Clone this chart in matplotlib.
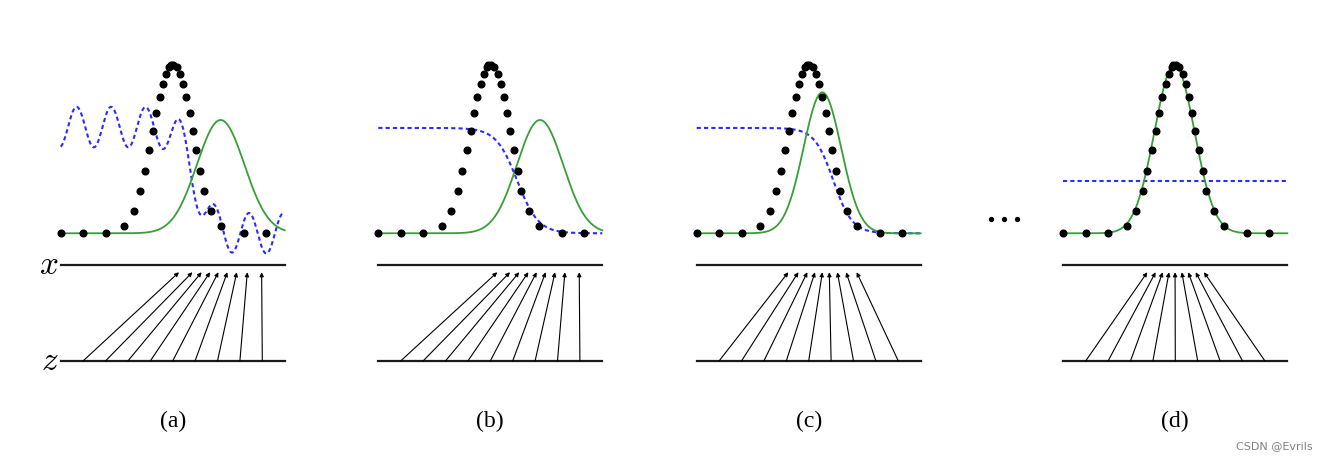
import numpy as np
import matplotlib.pyplot as plt

plt.rcParams['mathtext.fontset'] = 'cm'

# p_data sample points (position along x, height), same for every panel
data_u = [0.0, 0.101, 0.201, 0.283, 0.325, 0.354, 0.375, 0.395, 0.412, 0.427,
          0.442, 0.457, 0.472, 0.484, 0.491, 0.502, 0.518, 0.533, 0.546, 0.561,
          0.575, 0.59, 0.605, 0.624, 0.639, 0.673, 0.717, 0.819, 0.918]
data_v = [0.0, 0.0, 0.0, 0.045, 0.134, 0.249, 0.371, 0.494, 0.609, 0.713,
          0.807, 0.886, 0.945, 0.985, 1.0, 1.0, 0.985, 0.945, 0.886, 0.807,
          0.713, 0.609, 0.494, 0.371, 0.249, 0.134, 0.045, 0.0, 0.0]

panel_labels = ['(a)', '(b)', '(c)', '(d)']

# generator density p_g: mean, width, peak height
pg_mean = [0.714, 0.722, 0.561, 0.4965]
pg_sigma = [0.106, 0.103, 0.084, 0.089]
pg_height = [0.672, 0.672, 0.836, 1.0]

# discriminator D: plateau level, drop centre, drop width, ripple amplitude/period/phase
d_level = [0.63, 0.625, 0.625, 0.312]
d_mid = [0.6, 0.62, 0.61, None]
d_width = [0.035, 0.047, 0.042, None]
d_ripple = [0.12, 0.0, 0.0, 0.0]
d_period = [0.154, 0.154, 0.154, 0.154]
d_phase = [0.071, 0.071, 0.071, 0.071]

# mapping z -> x: start on z line, end on x line
z_pts = [0.1, 0.2, 0.3, 0.4, 0.5, 0.6, 0.7, 0.8, 0.9]
x_pts = [
    [0.528, 0.588, 0.629, 0.667, 0.704, 0.744, 0.786, 0.833, 0.897],
    [0.531, 0.588, 0.629, 0.670, 0.707, 0.747, 0.789, 0.833, 0.897],
    [0.409, 0.454, 0.494, 0.528, 0.561, 0.592, 0.628, 0.667, 0.714],
    [0.375, 0.412, 0.444, 0.472, 0.499, 0.529, 0.558, 0.591, 0.628],
]

# the "..." between (c) and (d)
ellipsis_u = [1.313, 1.373, 1.432]
ellipsis_v = [0.085, 0.085, 0.085]

W, H = 1328, 460
panel_left = [60.7, 378.3, 696.7, 1063.3]
panel_w = 224

X_LINE = -0.188
Z_LINE = -0.757
TIP = -0.231

green = '#36a036'
blue = '#2b2bff'

fig = plt.figure(figsize=(W / 100, H / 100), dpi=100)
u = np.linspace(0, 1, 400)

for i, L in enumerate(panel_left):
    ax = fig.add_axes([L / W, (H - 390) / H, panel_w / W, 360 / H])
    ax.set_xlim(0, 1)
    ax.set_ylim(-0.9235, 1.2117)
    ax.axis('off')

    # discriminator
    if d_mid[i] is None:
        d = np.full_like(u, d_level[i])
    else:
        d = d_level[i] / (1 + np.exp((u - d_mid[i]) / d_width[i]))
    d = d + d_ripple[i] * np.cos(2 * np.pi * (u - d_phase[i]) / d_period[i])
    ax.plot(u, d, color=blue, lw=1.5, dashes=(2, 1.5), clip_on=False, zorder=2)

    # generator
    g = pg_height[i] * np.exp(-(u - pg_mean[i]) ** 2 / (2 * pg_sigma[i] ** 2))
    ax.plot(u, g, color=green, lw=1.3, clip_on=False, zorder=3)

    # data
    ax.plot(data_u, data_v, 'o', color='black', ms=4.8, ls='none',
            clip_on=False, zorder=4)

    # x and z lines
    ax.plot([0, 1], [X_LINE, X_LINE], color='#1a1a1a', lw=1.6, clip_on=False)
    ax.plot([0, 1], [Z_LINE, Z_LINE], color='#1a1a1a', lw=1.6, clip_on=False)

    for zs, xs in zip(z_pts, x_pts[i]):
        ax.annotate('', xy=(xs, TIP), xytext=(zs, Z_LINE),
                    arrowprops=dict(arrowstyle='-|>', lw=0.8, color='black',
                                    mutation_scale=6, shrinkA=0, shrinkB=0))

    ax.text(0.5, -1.113, panel_labels[i], ha='center', va='center',
            fontsize=17, family='Liberation Serif', clip_on=False)

    if i == 0:
        ax.text(-0.008, -0.2355, '$x$', ha='right', va='baseline',
                fontsize=24, clip_on=False)
        ax.text(-0.008, -0.805, '$z$', ha='right', va='baseline',
                fontsize=24, clip_on=False)
    if i == 2:
        ax.plot(ellipsis_u, ellipsis_v, 'o', color='black', ms=2.8,
                ls='none', clip_on=False)

fig.text(1313 / W, 1 - 446 / H, 'CSDN @Evrils', ha='right', va='center',
         fontsize=8, color='#808080', family='DejaVu Sans')

fig.savefig('out.png', dpi=100)
